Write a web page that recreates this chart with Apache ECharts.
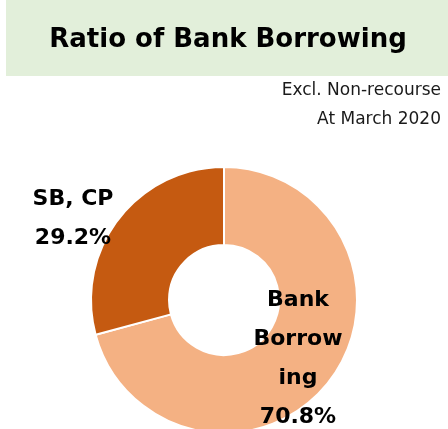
<!DOCTYPE html>
<html>
<head>
<meta charset="utf-8">
<script src="https://cdn.jsdelivr.net/npm/echarts@6/dist/echarts.min.js"></script>
<style>
  html, body { margin: 0; padding: 0; background: #ffffff; }
  #chart { width: 448px; height: 429px; }
</style>
</head>
<body>
<div id="chart"></div>
<script>
// Borrowing mix, share of total (%)
const categories = ['Bank Borrowing', 'SB, CP'];
const shares = [70.8, 29.2];
const sliceLabels = ['Bank\nBorrow\ning', 'SB, CP'];
const sliceColors = ['#F4B183', '#C55A11'];

const titleText = 'Ratio of Bank Borrowing';
const noteLines = ['Excl. Non-recourse', 'At March 2020'];

// label anchor points (centre of each text block)
const labelAnchors = [[298, 359], [73, 219]];

const FONT = 'DejaVu Sans';

const chart = echarts.init(document.getElementById('chart'), null, { renderer: 'canvas' });

chart.setOption({
  animation: false,
  backgroundColor: '#ffffff',
  graphic: [
    {
      type: 'rect',
      shape: { x: 6, y: 0, width: 442, height: 76 },
      style: { fill: '#E2EFDA' },
      silent: true
    },
    {
      type: 'text',
      x: 228, y: 40,
      style: {
        text: titleText,
        fill: '#000000',
        font: 'bold 26px "' + FONT + '"',
        align: 'center',
        verticalAlign: 'middle'
      }
    },
    {
      type: 'text',
      x: 441, y: 91,
      style: {
        text: noteLines[0],
        fill: '#1a1a1a',
        font: '17px "' + FONT + '"',
        align: 'right',
        verticalAlign: 'middle'
      }
    },
    {
      type: 'text',
      x: 441, y: 120,
      style: {
        text: noteLines[1],
        fill: '#1a1a1a',
        font: '17px "' + FONT + '"',
        align: 'right',
        verticalAlign: 'middle'
      }
    }
  ],
  series: [{
    type: 'pie',
    center: [224, 300],
    radius: [55, 133],
    startAngle: 90,
    clockwise: true,
    avoidLabelOverlap: false,
    itemStyle: { borderColor: '#ffffff', borderWidth: 2 },
    label: {
      show: true,
      position: 'inside',
      color: '#000000',
      fontFamily: FONT,
      fontWeight: 'bold',
      fontSize: 22,
      lineHeight: 39,
      align: 'center',
      formatter: p => sliceLabels[p.dataIndex] + '\n' + p.value.toFixed(1) + '%'
    },
    labelLine: { show: false },
    labelLayout: p => ({
      x: labelAnchors[p.dataIndex][0],
      y: labelAnchors[p.dataIndex][1],
      align: 'center',
      verticalAlign: 'middle'
    }),
    emphasis: { disabled: true },
    data: categories.map((name, i) => ({
      name,
      value: shares[i],
      itemStyle: { color: sliceColors[i] }
    }))
  }]
});
</script>
</body>
</html>
